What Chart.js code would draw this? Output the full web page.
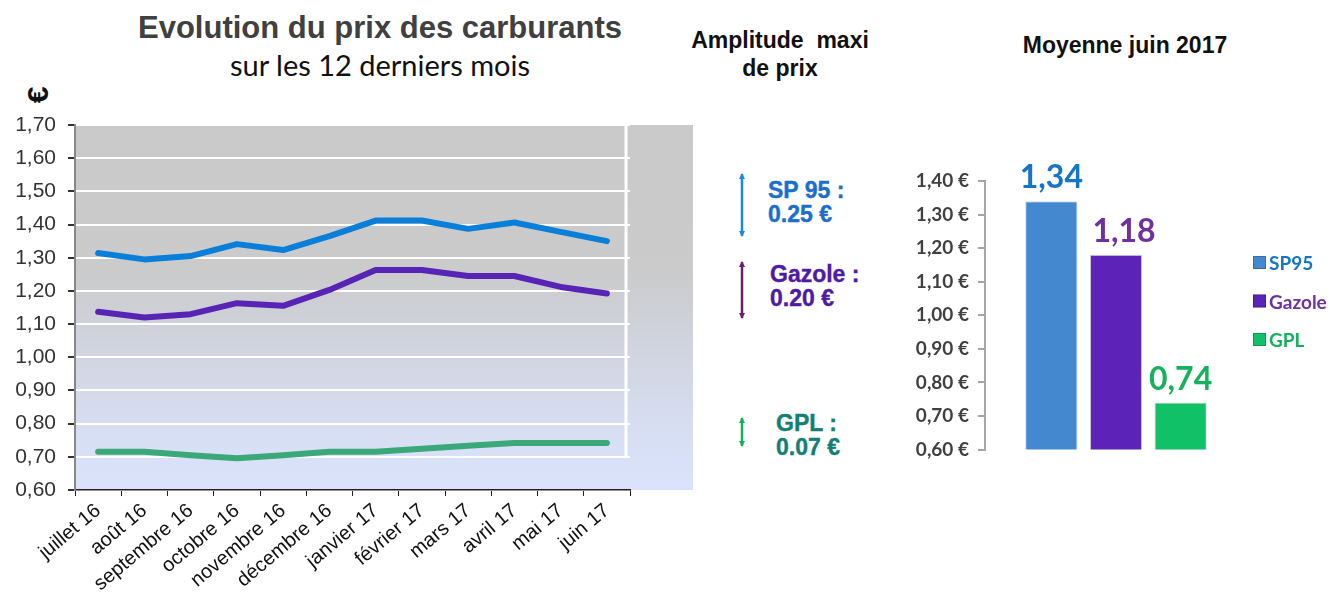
<!DOCTYPE html>
<html>
<head>
<meta charset="utf-8">
<title>Evolution du prix des carburants</title>
<script src="https://cdn.jsdelivr.net/npm/chart.js"></script>
<style>
  body { margin: 0; background: #fff; font-family: "Liberation Sans", Arial, sans-serif; }
  #page { position: relative; width: 1333px; height: 599px; overflow: hidden; }
  .abs { position: absolute; }
  .big { font-weight: bold; font-size: 23px; line-height: 24px; -webkit-text-stroke: 0.4px; white-space: nowrap; }
</style>
</head>
<body>
<div id="page">
  <div class="abs" style="left:80px;top:10px;width:600px;text-align:center;font-weight:bold;font-size:31px;color:#404040">Evolution du prix des carburants</div>
  <div class="abs" style="left:80px;top:47px;width:600px;text-align:center;font-family:Lato,sans-serif;font-size:29px;color:#111">sur les 12 derniers mois</div>
  <div class="abs" style="left:30px;top:78px;font-weight:bold;font-size:30px;color:#111;transform:rotate(-90deg)">€</div>

  <div class="abs" style="left:660px;top:26px;width:240px;text-align:center;font-weight:bold;font-size:23px;line-height:28px;color:#111;white-space:pre">Amplitude  maxi
de prix</div>
  <div class="abs big" style="left:768px;top:178px;color:#1a6fcc">SP 95 :<br>0.25 €</div>
  <div class="abs big" style="left:770px;top:262px;color:#4e1aa6">Gazole :<br>0.20 €</div>
  <div class="abs big" style="left:776px;top:411px;color:#137f75">GPL :<br>0.07 €</div>
  <svg class="abs" style="left:732px;top:168px" width="20" height="290">
    <defs>
      <marker id="ab" markerUnits="userSpaceOnUse" markerWidth="6" markerHeight="6" refX="5" refY="3" orient="auto-start-reverse"><path d="M0,0 L6,3 L0,6 z" fill="#1b8ad8"/></marker>
      <marker id="ap" markerUnits="userSpaceOnUse" markerWidth="6" markerHeight="6" refX="5" refY="3" orient="auto-start-reverse"><path d="M0,0 L6,3 L0,6 z" fill="#6b1f6b"/></marker>
      <marker id="ag" markerUnits="userSpaceOnUse" markerWidth="6" markerHeight="6" refX="5" refY="3" orient="auto-start-reverse"><path d="M0,0 L6,3 L0,6 z" fill="#18b060"/></marker>
    </defs>
    <line x1="10" y1="6" x2="10" y2="68" stroke="#1b8ad8" stroke-width="2.5" marker-start="url(#ab)" marker-end="url(#ab)"/>
    <line x1="10" y1="94" x2="10" y2="150" stroke="#6b1f6b" stroke-width="2.5" marker-start="url(#ap)" marker-end="url(#ap)"/>
    <line x1="10" y1="250" x2="10" y2="278" stroke="#18b060" stroke-width="2.5" marker-start="url(#ag)" marker-end="url(#ag)"/>
  </svg>

  <div class="abs" style="left:990px;top:32px;width:270px;text-align:center;font-weight:bold;font-size:23px;color:#111">Moyenne juin 2017</div>

  <canvas id="lineChart" class="abs" style="left:0;top:100px" width="720" height="499"></canvas>
  <canvas id="barChart" class="abs" style="left:900px;top:120px" width="433" height="350"></canvas>
</div>
<script>
const months = ["juillet 16", "août 16", "septembre 16", "octobre 16", "novembre 16", "décembre 16",
                "janvier 17", "février 17", "mars 17", "avril 17", "mai 17", "juin 17"];
const sp95Prices = [1.314, 1.295, 1.305, 1.341, 1.323, 1.365, 1.412, 1.412, 1.387, 1.406, 1.378, 1.350];
const gazolePrices = [1.137, 1.120, 1.130, 1.163, 1.155, 1.203, 1.263, 1.263, 1.245, 1.245, 1.212, 1.192];
const gplPrices = [0.715, 0.715, 0.705, 0.696, 0.705, 0.715, 0.715, 0.724, 0.733, 0.742, 0.742, 0.742];

const fuels = ["SP95", "Gazole", "GPL"];
const juneAverages = [1.34, 1.18, 0.74];

const comma = v => v.toFixed(2).replace(".", ",");

// grey to light blue background behind the line chart
const plotBackground = {
  id: "plotBackground",
  beforeDraw(chart) {
    const { ctx, chartArea: a } = chart;
    const g = ctx.createLinearGradient(0, a.top, 0, a.bottom);
    g.addColorStop(0, "#c9c9c9");
    g.addColorStop(0.4, "#cbcbcc");
    g.addColorStop(0.88, "#d8e0f6");
    g.addColorStop(1, "#dae3fb");
    ctx.save();
    ctx.fillStyle = g;
    ctx.fillRect(a.left, a.top, a.right - a.left + 63, a.bottom - a.top);
    ctx.strokeStyle = "#fff";
    ctx.lineWidth = 3;
    const y70 = chart.scales.y.getPixelForValue(0.7);
    ctx.beginPath();
    ctx.moveTo(a.right - 4, a.top);
    ctx.lineTo(a.right - 4, y70);
    ctx.stroke();
    ctx.restore();
  }
};

const lineDs = (label, data, color) => ({
  label, data, borderColor: color, borderWidth: 6, pointRadius: 0,
  tension: 0, borderCapStyle: "round", borderJoinStyle: "round", fill: false
});

new Chart(document.getElementById("lineChart"), {
  type: "line",
  data: {
    labels: months,
    datasets: [
      lineDs("GPL", gplPrices, "#3aa878"),
      lineDs("Gazole", gazolePrices, "#5724b6"),
      lineDs("SP95", sp95Prices, "#0a7fd9")
    ]
  },
  options: {
    responsive: false,
    animation: false,
    layout: { padding: { top: 25, right: 90, left: 0, bottom: 0 } },
    plugins: { legend: { display: false }, tooltip: { enabled: false } },
    scales: {
      x: {
        offset: true,
        grid: { offset: true, drawOnChartArea: false, tickLength: 6, tickColor: "#222" },
        border: { color: "#222", width: 1.5 },
        ticks: {
          autoSkip: false, minRotation: 40, maxRotation: 40, padding: 3,
          color: "#111", font: { family: "Liberation Sans", size: 20 }
        },
        afterFit: s => { s.height = 109; }
      },
      y: {
        min: 0.6, max: 1.7,
        ticks: {
          stepSize: 0.1, padding: 12, color: "#333",
          font: { family: "Liberation Sans", size: 21 },
          callback: v => comma(v)
        },
        grid: { color: "#ffffff", lineWidth: 2, tickColor: "#333", tickLength: 7 },
        border: { color: "#888", width: 2 },
        afterFit: s => { s.width = 75; }
      }
    }
  },
  plugins: [plotBackground]
});

const barColors = ["#4489d0", "#5c23b8", "#10c167"];
const valueColors = ["#1475c9", "#7030a0", "#13b25b"];

// big value labels above each bar
const valueLabels = {
  id: "valueLabels",
  afterDatasetsDraw(chart) {
    const { ctx } = chart;
    chart.data.datasets.forEach((ds, i) => {
      const bar = chart.getDatasetMeta(i).data[0];
      ctx.save();
      ctx.font = "bold 32px Lato";
      ctx.fillStyle = valueColors[i];
      ctx.textAlign = "center";
      ctx.textBaseline = "alphabetic";
      ctx.fillText(comma(ds.data[0]), bar.x + (i === 1 ? 8 : 0), bar.y - 13);
      ctx.restore();
    });
  }
};

// legend at the right, text coloured like its series
const sideLegend = {
  id: "sideLegend",
  afterDraw(chart) {
    const { ctx, chartArea: a } = chart;
    ctx.save();
    ctx.font = "bold 19px Lato";
    ctx.textBaseline = "middle";
    chart.data.datasets.forEach((ds, i) => {
      const y = 143 + i * 38.5;
      const x = a.right + 6;
      ctx.fillStyle = barColors[i];
      ctx.fillRect(x, y - 7, 13, 13);
      ctx.strokeStyle = "rgba(0,0,0,0.2)";
      ctx.lineWidth = 1;
      ctx.strokeRect(x + 0.5, y - 6.5, 12, 12);
      ctx.fillStyle = valueColors[i];
      ctx.fillText(ds.label, x + 16, y + 1);
    });
    ctx.restore();
  }
};

new Chart(document.getElementById("barChart"), {
  type: "bar",
  data: {
    labels: ["juin 2017"],
    datasets: fuels.map((f, i) => ({
      label: f,
      data: [juneAverages[i]],
      backgroundColor: barColors[i],
      borderColor: "rgba(0,0,0,0.15)",
      borderWidth: 1,
      barPercentage: 0.81,
      categoryPercentage: 0.74
    }))
  },
  options: {
    responsive: false,
    animation: false,
    layout: { padding: { top: 61, bottom: 16, right: 86 } },
    plugins: { tooltip: { enabled: false }, legend: { display: false } },
    scales: {
      x: { display: false },
      y: {
        min: 0.6, max: 1.4,
        ticks: {
          stepSize: 0.1, padding: 9, color: "#404040",
          font: { family: "Lato", size: 19, weight: "bold" },
          callback: v => comma(v) + " €"
        },
        grid: { drawOnChartArea: false, tickColor: "#a6a6a6", tickLength: 7, lineWidth: 2 },
        border: { color: "#a6a6a6", width: 2 },
        afterFit: s => { s.width = 85; }
      }
    }
  },
  plugins: [valueLabels, sideLegend]
});
</script>
</body>
</html>
